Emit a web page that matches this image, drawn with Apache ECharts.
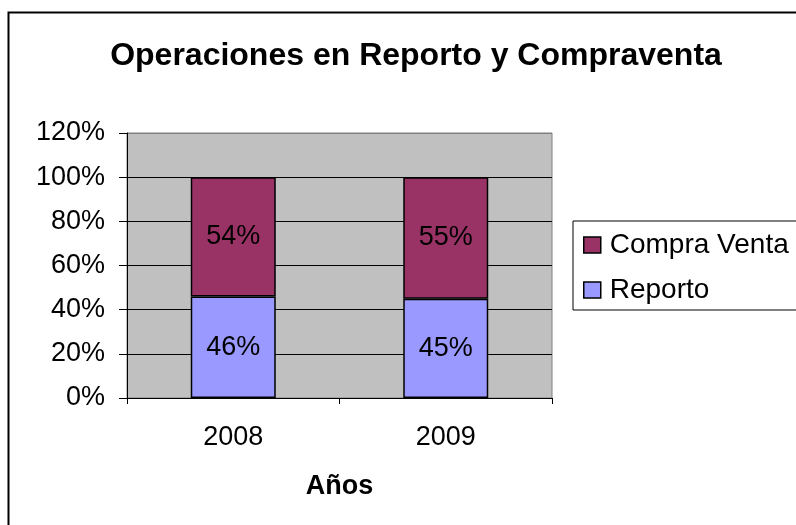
<!DOCTYPE html>
<html>
<head>
<meta charset="utf-8">
<script src="https://cdn.jsdelivr.net/npm/echarts@6/dist/echarts.min.js"></script>
<style>
  html, body { margin: 0; padding: 0; background: #fff; }
  #chart { width: 796px; height: 525px; }
</style>
</head>
<body>
<div id="chart"></div>
<script>
// datos del gráfico
const years = ['2008', '2009']
const reporto = [0.46, 0.45]
const compraVenta = [0.54, 0.55]

const font = '"Liberation Sans", Arial, sans-serif'
const pct = v => Math.round(v * 100) + '%'

const chart = echarts.init(document.getElementById('chart'))

chart.setOption({
  backgroundColor: '#fff',
  animation: false,
  textStyle: { fontFamily: font },
  title: {
    text: 'Operaciones en Reporto y Compraventa',
    left: 411,
    textAlign: 'center',
    top: 35,
    textStyle: { fontFamily: font, fontSize: 32, fontWeight: 'bold', color: '#000' }
  },
  graphic: [{
    type: 'rect',
    left: 6,
    top: 10,
    shape: { width: 900, height: 600 },
    style: { fill: 'none', stroke: '#000', lineWidth: 2 },
    silent: true
  }],
  legend: {
    orient: 'vertical',
    left: 573,
    top: 221,
    data: ['Compra Venta', 'Reporto'],
    icon: 'rect',
    itemWidth: 17,
    itemHeight: 16,
    itemGap: 15,
    padding: [9, 80, 5, 10],
    borderColor: '#000',
    borderWidth: 1,
    backgroundColor: '#fff',
    textStyle: { fontFamily: font, fontSize: 28, lineHeight: 30, color: '#000', padding: [0, 0, 0, 4] },
    itemStyle: { borderColor: '#000', borderWidth: 1.5 }
  },
  grid: {
    left: 127,
    right: 244,
    top: 133,
    bottom: 127,
    show: true,
    backgroundColor: '#C0C0C0',
    borderColor: '#808080',
    borderWidth: 1
  },
  xAxis: {
    type: 'category',
    data: years,
    name: 'Años',
    nameLocation: 'middle',
    nameGap: 75,
    nameTextStyle: { fontFamily: font, fontSize: 27, fontWeight: 'bold', color: '#000' },
    axisLine: { lineStyle: { color: '#000', width: 1 } },
    axisTick: { show: true, length: 6, lineStyle: { color: '#000' } },
    axisLabel: { fontFamily: font, fontSize: 27, color: '#000', margin: 26 }
  },
  yAxis: {
    type: 'value',
    min: 0,
    max: 1.2,
    interval: 0.2,
    axisLine: { show: true, lineStyle: { color: '#000', width: 1 } },
    axisTick: { show: true, length: 8, lineStyle: { color: '#000' } },
    axisLabel: { fontFamily: font, fontSize: 27, color: '#000', margin: 22, formatter: pct },
    splitLine: {
      show: true,
      lineStyle: { color: ['#000', '#000', '#000', '#000', '#000', '#000', '#808080'], width: 1 }
    }
  },
  series: [
    {
      name: 'Reporto',
      type: 'bar',
      stack: 'total',
      data: reporto,
      barWidth: '40%',
      itemStyle: { color: '#9999FF', borderColor: '#000', borderWidth: 1.5 },
      label: {
        show: true,
        position: 'inside',
        formatter: p => pct(p.value),
        fontFamily: font,
        fontSize: 27,
        color: '#000'
      }
    },
    {
      name: 'Compra Venta',
      type: 'bar',
      stack: 'total',
      data: compraVenta,
      barWidth: '40%',
      itemStyle: { color: '#993366', borderColor: '#000', borderWidth: 1.5 },
      label: {
        show: true,
        position: 'inside',
        formatter: p => pct(p.value),
        fontFamily: font,
        fontSize: 27,
        color: '#000'
      }
    }
  ]
})
</script>
</body>
</html>
